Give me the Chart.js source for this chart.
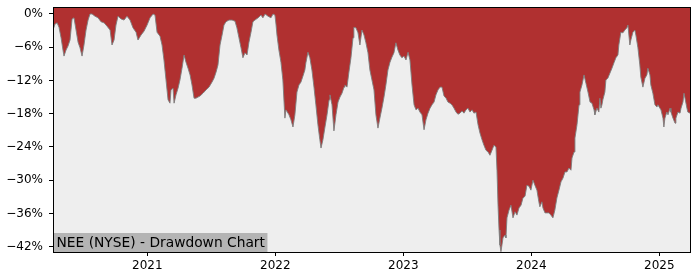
<!DOCTYPE html>
<html>
<head>
<meta charset="utf-8">
<script src="https://cdn.jsdelivr.net/npm/chart.js@4.4.1/dist/chart.umd.min.js"></script>
<style>
html, body { margin: 0; padding: 0; background: #fff; }
#wrap { width: 700px; height: 280px; }
</style>
</head>
<body>
<div id="wrap"><canvas id="dd" width="700" height="280"></canvas></div>
<script>
// dates as decimal years, drawdown in %
var years = [
  2020.263, 2020.279, 2020.295, 2020.310, 2020.326, 2020.341, 2020.349, 2020.365, 2020.380, 2020.396,
  2020.412, 2020.427, 2020.443, 2020.459, 2020.474, 2020.490, 2020.505, 2020.521, 2020.537, 2020.552,
  2020.568, 2020.591, 2020.615, 2020.638, 2020.662, 2020.685, 2020.709, 2020.724, 2020.740, 2020.755,
  2020.771, 2020.795, 2020.818, 2020.841, 2020.865, 2020.888, 2020.912, 2020.927, 2020.951, 2020.974,
  2020.998, 2021.021, 2021.045, 2021.060, 2021.076, 2021.099, 2021.115, 2021.130, 2021.146, 2021.162,
  2021.177, 2021.185, 2021.201, 2021.209, 2021.224, 2021.240, 2021.255, 2021.271, 2021.287, 2021.302,
  2021.318, 2021.334, 2021.349, 2021.365, 2021.380, 2021.396, 2021.412, 2021.435, 2021.459, 2021.482,
  2021.505, 2021.521, 2021.537, 2021.552, 2021.568, 2021.584, 2021.599, 2021.615, 2021.638, 2021.662,
  2021.685, 2021.700, 2021.716, 2021.732, 2021.747, 2021.763, 2021.779, 2021.794, 2021.810, 2021.825,
  2021.841, 2021.865, 2021.888, 2021.903, 2021.920, 2021.943, 2021.966, 2021.982, 2021.997, 2022.005,
  2022.013, 2022.028, 2022.044, 2022.059, 2022.075, 2022.083, 2022.107, 2022.122, 2022.138, 2022.153,
  2022.169, 2022.185, 2022.200, 2022.216, 2022.231, 2022.239, 2022.255, 2022.270, 2022.286, 2022.302,
  2022.317, 2022.333, 2022.348, 2022.357, 2022.372, 2022.388, 2022.404, 2022.420, 2022.427, 2022.443,
  2022.458, 2022.474, 2022.490, 2022.505, 2022.521, 2022.537, 2022.544, 2022.560, 2022.575, 2022.591,
  2022.607, 2022.614, 2022.630, 2022.646, 2022.661, 2022.677, 2022.693, 2022.708, 2022.724, 2022.739,
  2022.755, 2022.771, 2022.786, 2022.802, 2022.817, 2022.833, 2022.849, 2022.864, 2022.880, 2022.896,
  2022.911, 2022.927, 2022.942, 2022.958, 2022.973, 2022.989, 2023.005, 2023.021, 2023.037, 2023.052,
  2023.068, 2023.084, 2023.099, 2023.115, 2023.130, 2023.146, 2023.162, 2023.177, 2023.193, 2023.209,
  2023.224, 2023.240, 2023.255, 2023.271, 2023.287, 2023.302, 2023.318, 2023.334, 2023.349, 2023.365,
  2023.380, 2023.396, 2023.412, 2023.427, 2023.443, 2023.459, 2023.474, 2023.490, 2023.505, 2023.521,
  2023.537, 2023.552, 2023.568, 2023.584, 2023.599, 2023.615, 2023.630, 2023.646, 2023.662, 2023.677,
  2023.693, 2023.708, 2023.724, 2023.732, 2023.740, 2023.748, 2023.755, 2023.763, 2023.779, 2023.795,
  2023.802, 2023.810, 2023.826, 2023.841, 2023.857, 2023.873, 2023.888, 2023.904, 2023.920, 2023.935,
  2023.951, 2023.966, 2023.982, 2023.997, 2024.013, 2024.028, 2024.044, 2024.059, 2024.067, 2024.083,
  2024.091, 2024.107, 2024.122, 2024.138, 2024.153, 2024.169, 2024.184, 2024.200, 2024.216, 2024.232,
  2024.248, 2024.263, 2024.279, 2024.294, 2024.310, 2024.318, 2024.334, 2024.341, 2024.357, 2024.373,
  2024.380, 2024.396, 2024.412, 2024.427, 2024.443, 2024.459, 2024.474, 2024.490, 2024.497, 2024.513,
  2024.528, 2024.536, 2024.544, 2024.552, 2024.559, 2024.575, 2024.583, 2024.598, 2024.614, 2024.630,
  2024.646, 2024.661, 2024.677, 2024.684, 2024.700, 2024.716, 2024.731, 2024.747, 2024.755, 2024.770,
  2024.778, 2024.794, 2024.809, 2024.817, 2024.833, 2024.848, 2024.856, 2024.872, 2024.888, 2024.903,
  2024.911, 2024.927, 2024.934, 2024.950, 2024.966, 2024.982, 2024.989, 2025.005, 2025.013, 2025.029,
  2025.036, 2025.044, 2025.059, 2025.068, 2025.084, 2025.091, 2025.107, 2025.123, 2025.130, 2025.146,
  2025.162, 2025.170, 2025.185, 2025.193, 2025.201, 2025.216, 2025.223, 2025.240
];
var drawdown = [
  -2.9, -1.8, -1.6, -2.4, -4.3, -6.5, -7.6, -6.5, -5.8, -4.7,
  -0.9, -0.7, -2.9, -5.1, -6.1, -7.6, -5.6, -2.9, -1.1, 0,
  0, -0.4, -0.7, -1.4, -1.6, -2.2, -2.9, -5.6, -4.7, -2.0,
  -0.4, -0.9, -1.1, -0.4, -1.1, -2.5, -3.3, -4.7, -3.8, -3.1,
  -2.0, -0.7, 0, -0.2, -3.3, -4.0, -5.6, -8.3, -11.9, -15.5,
  -16.1, -13.7, -13.4, -16.1, -14.6, -13.4, -11.9, -9.8, -7.4, -8.7,
  -9.8, -11.0, -12.8, -15.2, -15.2, -15.0, -14.8, -14.3, -13.7, -13.2,
  -12.3, -11.6, -10.5, -9.2, -5.6, -3.8, -2.0, -1.4, -1.1, -1.1,
  -1.3, -2.5, -4.3, -6.1, -7.9, -7.0, -7.4, -5.1, -3.3, -1.4,
  -1.1, -0.7, -0.2, -0.7, 0, -0.4, -0.7, 0, -0.2, -1.8,
  -3.8, -6.5, -8.7, -11.9, -18.8, -17.3, -18.2, -19.1, -20.4, -18.2,
  -14.1, -12.8, -12.3, -11.2, -10.1, -8.8, -6.9, -7.9, -10.1, -13.2,
  -16.4, -20.0, -22.7, -24.2, -22.7, -20.4, -18.2, -15.5, -14.6, -16.4,
  -21.1, -18.2, -15.9, -15.0, -14.3, -13.2, -12.8, -13.2, -10.5, -7.9,
  -4.3, -2.4, -2.5, -3.4, -5.6, -2.9, -3.8, -5.2, -7.0, -10.1,
  -11.9, -13.7, -18.2, -20.6, -18.8, -17.0, -15.0, -12.8, -10.1, -8.7,
  -7.8, -7.0, -5.2, -6.5, -7.4, -7.9, -7.6, -8.3, -6.9, -8.3,
  -12.8, -16.4, -17.3, -17.0, -17.7, -18.2, -20.9, -19.1, -17.9, -17.0,
  -16.4, -15.9, -14.6, -13.7, -13.2, -13.2, -14.8, -15.2, -15.9, -16.1,
  -16.4, -17.0, -17.7, -18.1, -17.9, -17.5, -17.9, -17.3, -17.0, -17.7,
  -17.3, -17.9, -17.7, -20.0, -21.5, -22.7, -23.7, -24.6, -24.9, -25.5,
  -24.6, -23.7, -24.0, -28.2, -34.5, -39.0, -41.7, -42.9, -40.4, -39.9,
  -40.4, -36.8, -35.4, -34.5, -36.8, -35.7, -36.3, -35.0, -34.5, -33.2,
  -32.9, -30.9, -31.1, -31.8, -30.0, -30.9, -31.8, -33.9, -34.8, -33.9,
  -35.0, -35.9, -35.9, -35.9, -36.3, -36.8, -35.4, -33.2, -31.8, -30.3,
  -29.6, -28.5, -28.5, -27.8, -28.2, -26.0, -24.9, -22.4, -20.0, -16.4,
  -14.1, -12.8, -11.0, -12.5, -14.1, -15.9, -16.1, -17.3, -18.2, -17.0,
  -17.7, -15.2, -17.0, -16.4, -15.5, -14.1, -11.9, -11.6, -10.7, -9.8,
  -8.8, -7.9, -7.4, -5.6, -3.3, -3.4, -2.9, -2.5, -2.0, -5.6,
  -4.7, -3.3, -2.9, -3.8, -6.1, -9.2, -11.4, -13.2, -11.6, -11.0,
  -9.8, -11.0, -12.8, -14.3, -16.4, -16.8, -16.4, -17.0, -17.3, -18.8,
  -20.4, -18.8, -17.7, -18.2, -17.0, -17.7, -18.8, -19.7, -18.8, -17.7,
  -17.9, -17.0, -15.9, -14.3, -15.2, -17.0, -17.7, -17.9
];
var yTicks = [-42, -36, -30, -24, -18, -12, -6, 0];
var xTicks = [2021, 2022, 2023, 2024, 2025];
var chartLabel = "NEE (NYSE) - Drawdown Chart";

var pts = [];
for (var i = 0; i < years.length; i++) {
  pts.push({ x: years[i], y: drawdown[i] });
}

Chart.defaults.font.family = "'DejaVu Sans', sans-serif";
Chart.defaults.color = "#000";

var framePlugin = {
  id: "frame",
  beforeDraw: function (chart) {
    var a = chart.chartArea, c = chart.ctx;
    c.save();
    c.fillStyle = "#eeeeee";
    c.fillRect(a.left, a.top, a.right - a.left, a.bottom - a.top);
    c.restore();
  },
  afterDraw: function (chart) {
    var a = chart.chartArea, c = chart.ctx;
    c.save();
    // label box bottom-left
    c.font = "13.8px 'DejaVu Sans', sans-serif";
    var w = c.measureText(chartLabel).width;
    c.fillStyle = "#b4b4b4";
    c.fillRect(a.left, a.bottom - 19, w + 6, 19);
    c.fillStyle = "#000";
    c.textBaseline = "alphabetic";
    c.fillText(chartLabel, a.left + 3.5, a.bottom - 5);
    // frame
    c.strokeStyle = "#000";
    c.lineWidth = 1;
    c.strokeRect(a.left + 0.5, a.top + 0.5, a.right - a.left, a.bottom - a.top);
    c.restore();
  }
};

var ctx = document.getElementById("dd").getContext("2d");
var myChart = new Chart(ctx, {
  type: "line",
  data: {
    datasets: [{
      data: pts,
      borderColor: "rgba(125,125,125,0.9)",
      borderWidth: 1,
      backgroundColor: "#b03030",
      fill: "end",
      pointRadius: 0,
      tension: 0
    }]
  },
  options: {
    responsive: false,
    animation: false,
    devicePixelRatio: 1,
    layout: { padding: { top: 7, right: 10, left: 0, bottom: 0 } },
    plugins: {
      legend: { display: false },
      tooltip: { enabled: false }
    },
    scales: {
      x: {
        type: "linear",
        min: years[0],
        max: years[years.length - 1],
        afterBuildTicks: function (s) { s.ticks = xTicks.map(function (v) { return { value: v }; }); },
        afterFit: function (s) { s.height = 28; s.paddingLeft = 0; s.paddingRight = 0; },
        ticks: {
          callback: function (v) { return String(v); },
          font: { size: 12 },
          padding: 3,
          maxRotation: 0,
          autoSkip: false
        },
        grid: { drawOnChartArea: false, drawTicks: true, tickLength: 4, color: "#000" },
        border: { display: false }
      },
      y: {
        min: -42.96,
        max: 1.26,
        afterBuildTicks: function (s) { s.ticks = yTicks.map(function (v) { return { value: v }; }); },
        afterFit: function (s) { s.width = 53; s.paddingTop = 0; s.paddingBottom = 0; },
        ticks: {
          callback: function (v) { return (v < 0 ? "\u2212" + Math.abs(v) : v) + "%"; },
          font: { size: 12 },
          padding: 6,
          autoSkip: false
        },
        grid: { drawOnChartArea: false, drawTicks: true, tickLength: 4, color: "#000" },
        border: { display: false }
      }
    }
  },
  plugins: [framePlugin]
});
</script>
</body>
</html>
